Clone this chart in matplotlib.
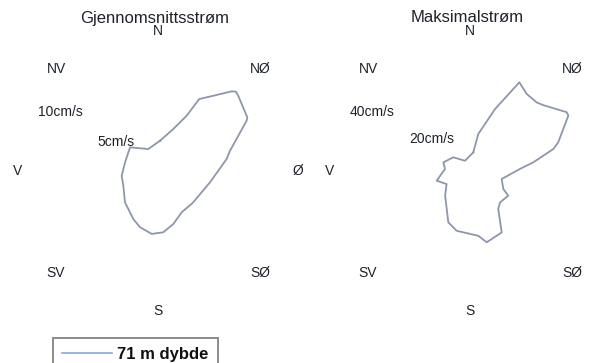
import numpy as np
import matplotlib
matplotlib.use("Agg")
import matplotlib.pyplot as plt
from matplotlib.lines import Line2D

plt.rcParams['font.family'] = ['Liberation Sans', 'DejaVu Sans']

# ---- data (compass direction in degrees, speed in cm/s) ----
mean_dir = [3.8, 20.0, 27.4, 29.8, 36.3, 42.8, 44.5, 46.8, 59.0, 60.4, 74.3, 80.1,
            102.3, 132.7, 150.1, 163.9, 175.1, 185.7, 197.7, 207.2, 226.5, 247.0,
            262.6, 284.8, 310.2, 336.2]
mean_speed = [2.60, 3.83, 5.34, 7.11, 8.00, 9.31, 9.53, 9.43, 8.93, 8.74, 6.41, 5.97,
              4.56, 4.04, 4.08, 4.73, 5.27, 5.42, 5.06, 4.63, 3.90, 3.23,
              3.14, 2.92, 3.14, 2.06]

max_dir = [10.0, 12.6, 22.0, 29.1, 36.4, 44.2, 47.8, 58.7, 60.6, 72.0, 75.2, 82.2,
           87.7, 104.2, 118.4, 122.8, 136.2, 143.3, 152.7, 166.8, 172.7, 192.6,
           202.9, 225.3, 240.8, 253.8, 274.6, 288.0, 309.4, 334.0]
max_speed = [6.5, 13.0, 22.9, 34.8, 32.8, 32.8, 33.7, 38.8, 38.7, 31.8, 29.6, 21.9,
             17.1, 11.2, 13.0, 15.6, 14.9, 16.2, 23.7, 25.1, 22.4, 21.0,
             19.1, 12.0, 9.2, 11.9, 8.6, 9.6, 7.4, 3.9]

compass_labels = ['N', 'NØ', 'Ø', 'SØ', 'S', 'SV', 'V', 'NV']
compass_angles = [0, 45, 90, 135, 180, 225, 270, 315]

titles = ['Gjennomsnittsstrøm', 'Maksimalstrøm']
ring_labels = [['5cm/s', '10cm/s'], ['20cm/s', '40cm/s']]
rmax_list = [12.0, 48.0]
legend_label = '71 m dybde'

# ---- figure ----
W, H = 602, 363
fig = plt.figure(figsize=(W / 100, H / 100), dpi=100)
fig.patch.set_facecolor('white')

R = 140  # px radius of the polar axes
centers = [(158, 171), (470, 171)]
txt_col = '#1e222a'
line_col = '#8d96ab'

ring_pos = [[(0.35, 0.603), (0.15, 0.709)], [(0.364, 0.614), (0.15, 0.711)]]
title_pos = [(155, 18), (467, 17)]

datasets = [(mean_dir, mean_speed), (max_dir, max_speed)]

for i in range(2):
    cx, cy = centers[i]
    ax = fig.add_axes([(cx - R) / W, (H - cy - R) / H, 2 * R / W, 2 * R / H],
                      projection='polar')
    ax.set_theta_zero_location('N')
    ax.set_theta_direction(-1)
    ax.set_ylim(0, rmax_list[i])
    ax.grid(False)
    ax.set_xticks([])
    ax.set_yticks([])
    ax.spines['polar'].set_visible(False)
    ax.patch.set_alpha(0)

    d, s = datasets[i]
    th = np.deg2rad(np.array(list(d) + [d[0]]))
    rr = np.array(list(s) + [s[0]])
    ax.plot(th, rr, color=line_col, lw=1.3, solid_joinstyle='round')

    for lab, ang in zip(compass_labels, compass_angles):
        f = 1.0 if ang % 90 == 0 else 1.03
        ax.text(np.deg2rad(ang), rmax_list[i] * f, lab, ha='center', va='center',
                fontsize=10, color=txt_col, clip_on=False)

    for lab, pos in zip(ring_labels[i], ring_pos[i]):
        ax.text(pos[0], pos[1], lab, transform=ax.transAxes, ha='center', va='center',
                fontsize=10, color=txt_col)

    tx, ty = title_pos[i]
    fig.text(tx / W, 1 - ty / H, titles[i],
             ha='center', va='center', fontsize=12, color=txt_col)

handle = Line2D([], [], color='#7ea9e3', lw=1.2)
leg = fig.legend([handle], [legend_label], loc='upper left',
                 bbox_to_anchor=(53 / W, 1 - 338 / H), bbox_transform=fig.transFigure,
                 frameon=True, fancybox=False, borderpad=0.55,
                 handlelength=3.0, handletextpad=0.3, borderaxespad=0,
                 prop={'weight': 'bold', 'size': 12})
leg.get_frame().set_edgecolor('#6e6e6e')
leg.get_frame().set_linewidth(1.4)
for t in leg.get_texts():
    t.set_color('#111111')

fig.savefig('out.png', dpi=100, facecolor='white')
